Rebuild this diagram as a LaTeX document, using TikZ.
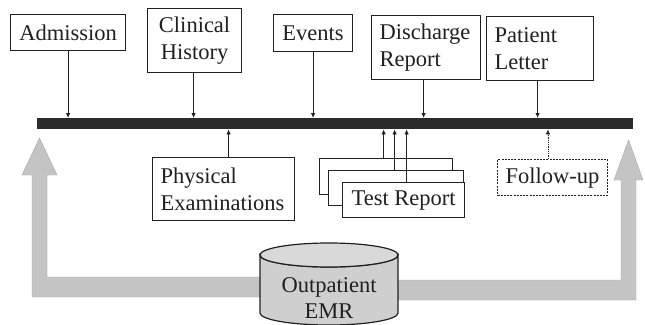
\documentclass[tikz,border=0pt]{standalone}
\usepackage{fontspec}
\setmainfont{Liberation Serif}
\usetikzlibrary{arrows.meta,calc}
\definecolor{ink}{HTML}{202020}
\definecolor{bigarrow}{HTML}{C4C4C4}
\definecolor{cylfill}{HTML}{CFCFCF}
\begin{document}
\begin{tikzpicture}[x=1pt,y=-1pt,
  box/.style={draw=ink, line width=1.2pt, inner xsep=8pt, inner ysep=2pt,
    font=\fontsize{22.5}{27}\selectfont, text=ink, anchor=north west, fill=white},
  cbox/.style={box, align=center},
  lbox/.style={box, align=left},
  arr/.style={draw=ink, line width=0.8pt, -{Latex[length=5pt,width=4.5pt]}},
  darr/.style={arr, densely dotted},
  garrow/.style={fill=bigarrow, draw=bigarrow!85!black, line width=0.4pt},
]
\useasboundingbox (0,0) rectangle (645,324);
\begin{scope}
\clip (0,0) rectangle (645,324);
% big gray arrows
\path[garrow] (262,277) -- (47,277) -- (47,175) -- (57,175) -- (39.5,138)
  -- (22,175) -- (32,175) -- (32,297) -- (262,297) -- cycle;
\path[garrow] (396,280) -- (621,280) -- (621,180) -- (614,180) -- (628.5,140)
  -- (643,180) -- (636,180) -- (636,300) -- (396,300) -- cycle;
% cylinder
\filldraw[fill=cylfill, draw=ink, line width=1.2pt]
  (260,255) -- (260,313) arc[start angle=180, end angle=0, x radius=69, y radius=12]
  -- (398,255) arc[start angle=0, end angle=180, x radius=69, y radius=12] -- cycle;
\draw[draw=ink, line width=1.2pt, fill=cylfill!80!white] (329,255) ellipse[x radius=69, y radius=12];
\end{scope}
\node[font=\fontsize{22.5}{26}\selectfont, text=ink, align=center] (emr) at (329,298) {Outpatient\\EMR};

% timeline bar
\node[fill=ink!95, minimum width=596pt, minimum height=11pt, inner sep=0pt, anchor=north west] (bar) at (37,118) {};

% top boxes
\node[cbox, minimum width=115pt, minimum height=36pt] (adm) at (10,14) {Admission};
\node[cbox, minimum width=94pt, minimum height=64pt] (clin) at (147,8) {Clinical\\History};
\node[cbox, minimum width=79pt, minimum height=37pt] (ev) at (273,14) {Events};
\node[lbox, text width=93pt, minimum height=64pt] (dis) at (371,15) {Discharge\\Report};
\node[lbox, text width=91pt, minimum height=64pt] (pat) at (486,16) {Patient\\Letter};

% bottom boxes
\node[lbox, text width=126pt, minimum height=63pt] (phys) at (152,157) {Physical\\Examinations};
\node[box, minimum width=133pt, minimum height=36pt] (back) at (319,158) {};
\node[box, minimum width=135pt, minimum height=35pt] (mid) at (328,170) {};
\node[cbox, minimum width=122pt, minimum height=35pt] (front) at (342,182) {Test Report};
\node[cbox, dashed, dash pattern=on 2pt off 1.2pt, minimum width=109pt, minimum height=36pt] (fol) at (497,159) {Follow-up};

% connectors to bar
\draw[arr] (adm.south) -- (adm.south |- bar.north);
\draw[arr] ([xshift=-1pt]clin.south) -- ([xshift=-1pt]clin.south |- bar.north);
\draw[arr] (ev.south) -- (ev.south |- bar.north);
\draw[arr] ([xshift=-2.5pt]dis.south) -- ([xshift=-2.5pt]dis.south |- bar.north);
\draw[arr] ([xshift=-2.5pt]pat.south) -- ([xshift=-2.5pt]pat.south |- bar.north);

\draw[arr] ([xshift=5pt]phys.north) -- ([xshift=5pt]phys.north |- bar.south);
\draw[arr] ([xshift=-2.5pt]back.north) -- ([xshift=-2.5pt]back.north |- bar.south);
\draw[arr] ([xshift=-1.5pt]mid.north) -- ([xshift=-1.5pt]mid.north |- bar.south);
\draw[arr] ([xshift=3pt]front.north) -- ([xshift=3pt]front.north |- bar.south);
\draw[darr] ([xshift=-4.5pt]fol.north) -- ([xshift=-4.5pt]fol.north |- bar.south);
\end{tikzpicture}
\end{document}
